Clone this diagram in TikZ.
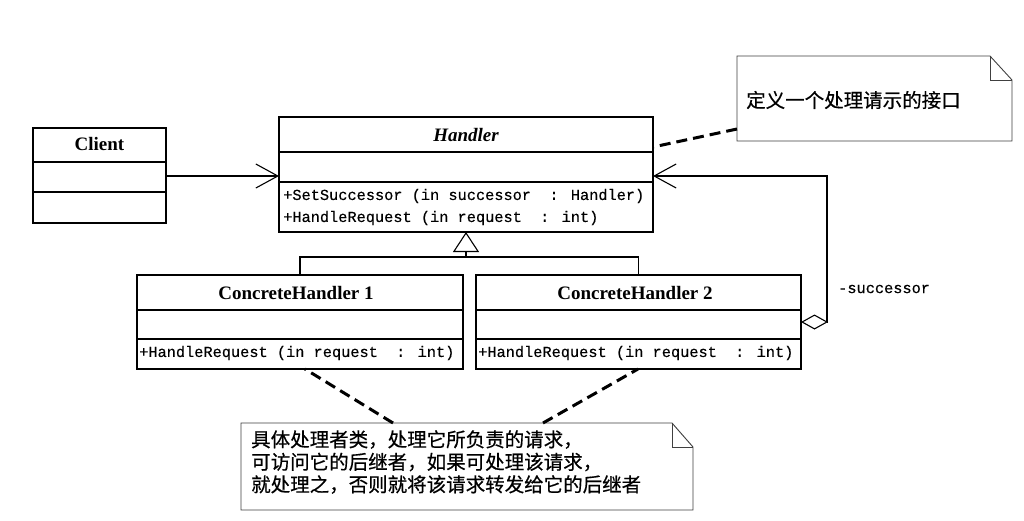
\documentclass[tikz,border=0pt]{standalone}
\usepackage{fontspec}
\setmainfont{Liberation Serif}
\newfontfamily\monof{Liberation Mono}[FakeBold=0.3]
\newfontfamily\cjk{Noto Sans CJK SC}[FakeBold=0.5]
\usetikzlibrary{arrows.meta}
\tikzset{
  classbox/.style={draw, line width=1.4pt, inner sep=0pt, outer sep=0pt, anchor=north west},
  divider/.style={line width=1.2pt},
  cname/.style={font=\fontsize{19}{22}\selectfont\bfseries, inner sep=0pt},
  meth/.style={font=\monof\fontsize{15.3}{18}\selectfont, anchor=west, inner sep=0pt},
  assoc/.style={line width=1.1pt, -{Straight Barb[length=22pt,width=24pt]}},
  genline/.style={line width=1.1pt},
  notebox/.style={inner sep=0pt, outer sep=0pt, anchor=north west},
  noteline/.style={draw=black!75, line width=0.9pt},
  anchorline/.style={line width=3pt, dash pattern=on 11pt off 6pt},
  notetext/.style={font=\cjk\fontsize{19.5}{22.5}\selectfont, anchor=north west, align=left, inner sep=0pt}
}
\begin{document}
\begin{tikzpicture}[x=1pt,y=-1pt]
\path[use as bounding box, fill=white] (0,0) rectangle (1024,520);

% Client
\node[classbox, minimum width=133pt, minimum height=95pt] (client) at (33,128) {};
\draw[divider] ([yshift=-34pt]client.north west) -- ([yshift=-34pt]client.north east);
\draw[divider] ([yshift=-64pt]client.north west) -- ([yshift=-64pt]client.north east);
\node[cname] (clientname) at (99.5,144) {Client};

% Handler
\node[classbox, minimum width=374pt, minimum height=115pt] (handler) at (279,117) {};
\draw[divider] ([yshift=-35pt]handler.north west) -- ([yshift=-35pt]handler.north east);
\draw[divider] ([yshift=-65pt]handler.north west) -- ([yshift=-65pt]handler.north east);
\node[inner sep=0pt, font=\fontsize{19}{22}\selectfont\bfseries\itshape] (handlername) at (466,135) {Handler};
\node[meth] (hm1) at (283,196) {+SetSuccessor (in successor\ \ : Handler)};
\node[meth] (hm2) at (283,218) {+HandleRequest (in request\ \ : int)};

% ConcreteHandler 1
\node[classbox, minimum width=326pt, minimum height=94pt] (ch1) at (137,275) {};
\draw[divider] ([yshift=-35pt]ch1.north west) -- ([yshift=-35pt]ch1.north east);
\draw[divider] ([yshift=-64pt]ch1.north west) -- ([yshift=-64pt]ch1.north east);
\node[cname] (ch1name) at (296,293) {ConcreteHandler 1};
\node[meth] (ch1m) at (139,353) {+HandleRequest (in request\ \ : int)};

% ConcreteHandler 2
\node[classbox, minimum width=325pt, minimum height=94pt] (ch2) at (476,275) {};
\draw[divider] ([yshift=-35pt]ch2.north west) -- ([yshift=-35pt]ch2.north east);
\draw[divider] ([yshift=-64pt]ch2.north west) -- ([yshift=-64pt]ch2.north east);
\node[cname] (ch2name) at (635,293) {ConcreteHandler 2};
\node[meth] (ch2m) at (478,353) {+HandleRequest (in request\ \ : int)};

% Client -> Handler
\draw[assoc] ([yshift=-48pt]client.north east) -- ([yshift=-59pt]handler.north west);

% Generalization
\coordinate (gj) at (handler.south |- 0,257);
\draw[genline] (ch1.north) -- ++(0,-18) -| (ch2.north);
\draw[genline, -{Triangle[open, length=20pt, width=26pt, fill=white]}] (gj) -- (handler.south);

% successor aggregation
\draw[line width=1.1pt, {Diamond[open, length=27pt, width=15pt, fill=white]}-{Straight Barb[length=22pt,width=24pt]}]
  ([yshift=-47pt]ch2.north east) -- ++(26,0) |- ([yshift=-59pt]handler.north east);
\node[meth] (succ) at (838,289) {-successor};

% Note 1
\node[notebox, minimum width=275pt, minimum height=85pt] (note1) at (737,56) {};
\draw[noteline] (note1.north west) -- ([xshift=-22pt]note1.north east) -- ([yshift=-24pt]note1.north east) -- (note1.south east) -- (note1.south west) -- cycle;
\draw[noteline] ([xshift=-22pt]note1.north east) |- ([yshift=-24pt]note1.north east);
\node[notetext, anchor=west] (note1text) at (746,100) {定义一个处理请示的接口};
\draw[anchorline] ([yshift=12pt]note1.south west) -- ([yshift=-30pt]handler.north east);

% Note 2
\node[notebox, minimum width=452pt, minimum height=87pt] (note2) at (241,423) {};
\draw[noteline] (note2.north west) -- ([xshift=-21pt]note2.north east) -- ([yshift=-24pt]note2.north east) -- (note2.south east) -- (note2.south west) -- cycle;
\draw[noteline] ([xshift=-21pt]note2.north east) |- ([yshift=-24pt]note2.north east);
\node[notetext] (note2text) at (251,430) {具体处理者类，处理它所负责的请求，\\可访问它的后继者，如果可处理该请求，\\就处理之，否则就将该请求转发给它的后继者};
\draw[anchorline] ([xshift=152pt]note2.north west) -- ([xshift=168pt]ch1.south west);
\draw[anchorline] ([xshift=302pt]note2.north west) -- ([xshift=162pt]ch2.south west);
\end{tikzpicture}
\end{document}
